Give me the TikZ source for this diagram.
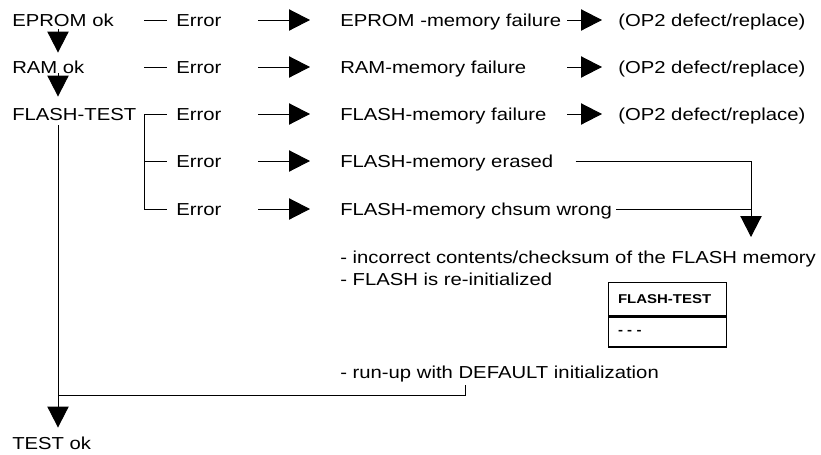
\documentclass[tikz,border=0pt]{standalone}
\usepackage{fontspec}
\setmainfont{Liberation Sans}[FakeStretch=1.17]
\usetikzlibrary{arrows.meta,positioning}

\begin{document}
\begin{tikzpicture}[
	x=0.75pt, y=-0.75pt,
	txt/.style={
		inner sep=0pt,
		anchor=west,
		text height=9.3pt,
		text depth=0pt,
		font=\fontsize{13}{16.5}\selectfont
	},
	notetxt/.style={
		inner sep=0pt,
		anchor=north west,
		align=left,
		font=\fontsize{13}{16.5}\selectfont
	},
	link/.style={
		draw=black,
		line width=0.7pt
	},
	tri/.style={
		-{Triangle[length=15.75pt,width=16pt]},
		draw=black,
		line width=0.7pt
	},
	cell/.style={
		draw=black,
		line width=1pt,
		anchor=north west,
		align=left,
		text width=74.5pt,
		inner xsep=7pt,
		inner ysep=0pt,
		font=\bfseries\fontsize{9.6}{11}\selectfont
	}
	]
	\useasboundingbox (0,0) rectangle (821,454);
	
	% Columns
	\coordinate (trunk) at (58,0);
	\coordinate (brk) at (144,114);
	\coordinate (mcol) at (258,0);
	\coordinate (rcol) at (567,0);
	\coordinate (drop) at (751,0);
	\coordinate (hook) at (465,0);
	\coordinate (merge) at (58,395);
	
	% Test sequence
	\node[txt] (eprom) at (12,20) {EPROM ok};
	\node[txt] (ram) at (12,67) {RAM ok};
	\node[txt] (flash) at (12,114) {FLASH-TEST};
	\node[txt] (testok) at (12,443) {TEST ok};
	
	% Errors
	\node[txt] (err1) at (176,20) {Error};
	\node[txt] (err2) at (176,67) {Error};
	\node[txt] (err3) at (176,114) {Error};
	\node[txt] (err4) at (176,161) {Error};
	\node[txt] (err5) at (176,209) {Error};
	
	% Results
	\node[txt] (fail1) at (340,20) {EPROM -memory failure};
	\node[txt] (fail2) at (340,67) {RAM-memory failure};
	\node[txt] (fail3) at (340,114) {FLASH-memory failure};
	\node[txt] (fail4) at (340,161) {FLASH-memory erased};
	\node[txt] (fail5) at (340,209) {FLASH-memory chsum wrong};
	
	\node[txt] (op1) at (618,20) {(OP2 defect/replace)};
	\node[txt] (op2) at (618,67) {(OP2 defect/replace)};
	\node[txt] (op3) at (618,114) {(OP2 defect/replace)};
	
	\node[notetxt] (note) at (340,251) {
		- incorrect contents/checksum of the FLASH memory\\
		- FLASH is re-initialized
	};
	
	\node[cell,minimum height=24.75pt] (boxhead) at (608,282) {FLASH-TEST};
	\node[cell,minimum height=22.5pt,below=0pt of boxhead] (boxbody) {- - -};
	
	\node[txt] (runup) at (340,372) {- run-up with DEFAULT initialization};
	
	% Main sequence
	\draw[tri,shorten <=2.25pt,shorten >=6pt]
	(eprom.south -| trunk) --
	(ram.north -| trunk);
	
	\draw[tri,shorten >=8.25pt]
	(ram.south -| trunk) --
	(flash.north -| trunk);
	
	\draw[tri,shorten <=3.75pt,shorten >=6.75pt]
	(flash.south -| trunk) --
	(testok.north -| trunk);
	
	% Error branches
	\draw[link,shorten >=6.75pt] (err1.west -| brk) -- (err1.west);
	\draw[link,shorten >=6.75pt] (err2.west -| brk) -- (err2.west);
	\draw[link,shorten >=6.75pt] (brk) -- (err3.west);
	\draw[link,shorten >=6.75pt] (err4.west -| brk) -- (err4.west);
	\draw[link,shorten >=6.75pt] (brk) |- (err5.west);
	
	\foreach \i in {1,...,5}
	\draw[tri,shorten >=22.5pt] (err\i.east -| mcol) -- (fail\i.west);
	
	\foreach \i in {1,2,3}
	\draw[tri,shorten >=12pt] (fail\i.east -| rcol) -- (op\i.west);
	
	% FLASH re-initialization
	\draw[tri,shorten <=16.5pt,shorten >=10.5pt]
	(fail4.east) -|
	(note.north -| drop);
	
	\draw[link,shorten <=3pt]
	(fail5.east) --
	(fail5.east -| drop);
	
	% Default run-up
	\draw[link,shorten <=5.25pt]
	(runup.south -| hook) |-
	(merge);
	
\end{tikzpicture}
\end{document}
